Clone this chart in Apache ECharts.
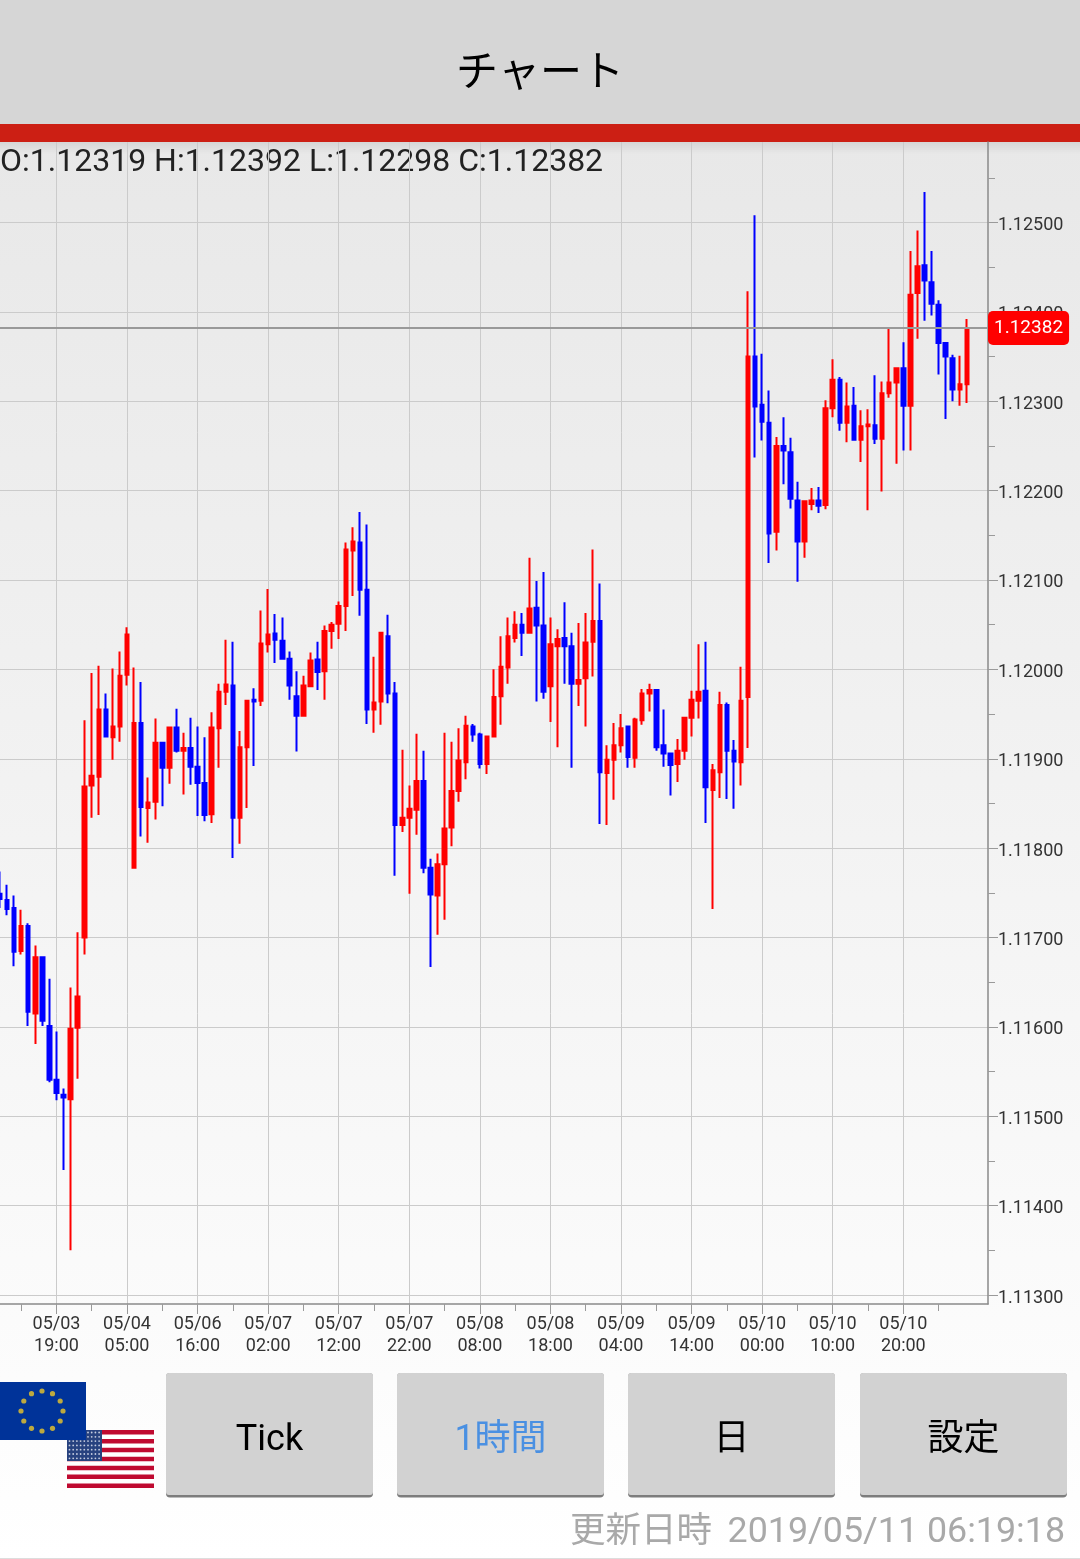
<!DOCTYPE html>
<html>
<head>
<meta charset="utf-8">
<title>チャート</title>
<style>
  html, body { margin: 0; padding: 0; background: #fff; }
  #chart { width: 1080px; height: 1559px; }
</style>
<script src="https://cdn.jsdelivr.net/npm/echarts@6/dist/echarts.min.js"></script>
</head>
<body>
<div id="chart"></div>
<script>
// 1時間足 EUR/USD
const opens = [
  1.11749,1.11742,1.11733,1.11685,1.11713,1.11615,1.11678,1.11601,1.11541,1.11524,
  1.11519,1.11599,1.11700,1.11870,1.11880,1.11955,1.11924,1.11936,1.11994,1.11778,
  1.11940,1.11845,1.11852,1.11918,1.11890,1.11935,1.11909,1.11912,1.11891,1.11873,
  1.11838,1.11934,1.11975,1.11982,1.11834,1.11913,1.11966,1.11965,1.12028,1.12040,
  1.12032,1.12012,1.11970,1.11948,1.11981,1.12011,1.11998,1.12043,1.12051,1.12071,
  1.12133,1.12142,1.12089,1.11955,1.11964,1.12037,1.11973,1.11826,1.11834,1.11843,
  1.11875,1.11778,1.11747,1.11782,1.11823,1.11864,1.11896,1.11936,1.11927,1.11894,
  1.11925,1.11970,1.12002,1.12035,1.12050,1.12041,1.12069,1.12049,1.11981,1.12026,
  1.12035,1.12026,1.11984,1.11990,1.12031,1.12054,1.11884,1.11899,1.11915,1.11936,
  1.11901,1.11943,1.11973,1.11977,1.11915,1.11906,1.11894,1.11909,1.11946,1.11965,
  1.11976,1.11865,1.11885,1.11960,1.11909,1.11896,1.11969,1.12350,1.12296,1.12276,
  1.12154,1.12250,1.12243,1.12189,1.12143,1.12185,1.12189,1.12184,1.12292,1.12324,
  1.12276,1.12295,1.12257,1.12272,1.12273,1.12258,1.12309,1.12321,1.12337,1.12295,
  1.12421,1.12452,1.12433,1.12408,1.12365,1.12348,1.12313,1.12319
];
const closes = [
  1.11743,1.11732,1.11684,1.11713,1.11617,1.11678,1.11607,1.11541,1.11526,1.11521,
  1.11598,1.11634,1.11869,1.11881,1.11955,1.11925,1.11936,1.11993,1.12039,1.11940,
  1.11846,1.11851,1.11918,1.11890,1.11935,1.11909,1.11912,1.11891,1.11873,1.11837,
  1.11935,1.11975,1.11983,1.11834,1.11913,1.11965,1.11964,1.12029,1.12039,1.12033,
  1.12012,1.11982,1.11948,1.11982,1.12010,1.11997,1.12043,1.12050,1.12071,1.12134,
  1.12143,1.12089,1.11955,1.11963,1.12041,1.11973,1.11826,1.11834,1.11844,1.11875,
  1.11778,1.11748,1.11782,1.11822,1.11864,1.11898,1.11937,1.11927,1.11894,1.11925,
  1.11969,1.12003,1.12037,1.12050,1.12041,1.12068,1.12049,1.11975,1.12028,1.12034,
  1.12026,1.11984,1.11988,1.12030,1.12054,1.11885,1.11899,1.11915,1.11934,1.11902,
  1.11944,1.11973,1.11977,1.11913,1.11906,1.11893,1.11909,1.11946,1.11966,1.11975,
  1.11868,1.11887,1.11960,1.11909,1.11897,1.11965,1.12350,1.12294,1.12277,1.12152,
  1.12250,1.12245,1.12191,1.12143,1.12188,1.12189,1.12183,1.12292,1.12324,1.12276,
  1.12294,1.12257,1.12272,1.12274,1.12258,1.12309,1.12321,1.12337,1.12295,1.12419,
  1.12451,1.12435,1.12409,1.12365,1.12350,1.12313,1.12319,1.12382
];
const lows = [
  1.11733,1.11725,1.11668,1.11681,1.11601,1.11581,1.11601,1.11538,1.11518,1.11440,
  1.11350,1.11542,1.11681,1.11834,1.11837,1.11924,1.11899,1.11919,1.11982,1.11778,
  1.11813,1.11806,1.11832,1.11847,1.11872,1.11907,1.11860,1.11871,1.11836,1.11830,
  1.11828,1.11890,1.11960,1.11789,1.11805,1.11845,1.11892,1.11959,1.12019,1.12007,
  1.12012,1.11966,1.11908,1.11947,1.11981,1.11977,1.11966,1.12023,1.12034,1.12043,
  1.12082,1.12060,1.11939,1.11929,1.11938,1.11962,1.11769,1.11818,1.11749,1.11815,
  1.11772,1.11667,1.11703,1.11720,1.11802,1.11852,1.11877,1.11919,1.11889,1.11883,
  1.11925,1.11938,1.11984,1.12030,1.12015,1.12040,1.11964,1.11967,1.11941,1.11913,
  1.11984,1.11890,1.11959,1.11936,1.11992,1.11827,1.11826,1.11854,1.11907,1.11890,
  1.11890,1.11938,1.11953,1.11909,1.11891,1.11859,1.11874,1.11899,1.11925,1.11945,
  1.11828,1.11732,1.11856,1.11855,1.11844,1.11870,1.11912,1.12237,1.12256,1.12119,
  1.12133,1.12207,1.12180,1.12098,1.12125,1.12178,1.12175,1.12179,1.12282,1.12267,
  1.12254,1.12257,1.12232,1.12178,1.12252,1.12199,1.12304,1.12230,1.12245,1.12245,
  1.12370,1.12390,1.12396,1.12330,1.12280,1.12300,1.12295,1.12298
];
const highs = [
  1.11774,1.11759,1.11747,1.11731,1.11716,1.11691,1.11678,1.11654,1.11595,1.11531,
  1.11644,1.11706,1.11943,1.11996,1.12004,1.11973,1.12001,1.12020,1.12047,1.12002,
  1.11986,1.11879,1.11945,1.11918,1.11936,1.11956,1.11929,1.11946,1.11936,1.11924,
  1.11952,1.11984,1.12033,1.12031,1.11931,1.11966,1.11979,1.12066,1.12090,1.12062,
  1.12058,1.12020,1.11998,1.11993,1.12019,1.12031,1.12049,1.12053,1.12076,1.12142,
  1.12159,1.12176,1.12162,1.12014,1.12042,1.12061,1.11986,1.11910,1.11870,1.11928,
  1.11909,1.11788,1.11794,1.11929,1.11919,1.11934,1.11948,1.11939,1.11929,1.11925,
  1.12000,1.12037,1.12058,1.12065,1.12063,1.12125,1.12099,1.12109,1.12058,1.12045,
  1.12075,1.12041,1.12052,1.12063,1.12134,1.12096,1.11915,1.11940,1.11950,1.11936,
  1.11946,1.11978,1.11984,1.11977,1.11955,1.11907,1.11922,1.11947,1.11976,1.12028,
  1.12031,1.11894,1.11975,1.11963,1.11921,1.12003,1.12423,1.12508,1.12353,1.12312,
  1.12260,1.12282,1.12259,1.12210,1.12189,1.12203,1.12204,1.12301,1.12347,1.12327,
  1.12321,1.12316,1.12290,1.12291,1.12329,1.12322,1.12382,1.12338,1.12366,1.12468,
  1.12491,1.12534,1.12468,1.12413,1.12365,1.12352,1.12351,1.12392
];
const tickLabels = [
  '05/03\n19:00', '05/04\n05:00', '05/06\n16:00', '05/07\n02:00', '05/07\n12:00',
  '05/07\n22:00', '05/08\n08:00', '05/08\n18:00', '05/09\n04:00', '05/09\n14:00',
  '05/10\n00:00', '05/10\n10:00', '05/10\n20:00'
];
const priceTicks = [1.113, 1.114, 1.115, 1.116, 1.117, 1.118, 1.119, 1.12, 1.121, 1.122, 1.123, 1.124, 1.125];
const priceMinorTicks = [1.1135, 1.1145, 1.1155, 1.1165, 1.1175, 1.1185, 1.1195, 1.1205, 1.1215, 1.1225, 1.1235, 1.1245, 1.1255];
const lastPrice = 1.12382;
const ohlcText = 'O:1.12319 H:1.12392 L:1.12298 C:1.12382';
const buttonLabels = ['Tick', '1時間', '日', '設定'];

const FONT = 'Roboto, "Noto Sans CJK JP", sans-serif';
const SLOTS = 141;

// x軸は141枠、13本目から10本おきに目盛
const categories = [];
for (let i = 0; i < SLOTS; i++) {
  const k = (i - 8) / 10;
  categories.push(Number.isInteger(k) && tickLabels[k] ? tickLabels[k] : '');
}
const isMajor = i => (i - 8) % 10 === 0 && i < 130;
const isMinor = i => (i - 3) % 5 === 0 && i < 136;

const candles = opens.map((o, i) => [o, closes[i], lows[i], highs[i]]);

function rect(x, y, width, height, fill, r) {
  return { type: 'rect', shape: { x, y, width, height, r: r || 0 }, style: { fill } };
}
function label(text, x, y, size, fill, align) {
  return {
    type: 'text',
    style: { text, x, y, fill, font: size + 'px ' + FONT, align: align || 'center', verticalAlign: 'middle' }
  };
}

// 国旗
function flags() {
  const out = [];
  out.push(rect(67, 1430, 87, 58, '#ffffff'));
  for (let s = 0; s < 13; s += 2) {
    out.push(rect(67, 1430 + s * 4.46, 87, 4.46, '#bf0a30'));
  }
  out.push(rect(67, 1430, 35, 31, '#27427f'));
  for (let r = 0; r < 7; r++) {
    for (let c = 0; c < 9; c++) {
      out.push({ type: 'circle', shape: { cx: 69.5 + c * 3.7, cy: 1432.5 + r * 4.3, r: 0.9 }, style: { fill: '#c5cde0' } });
    }
  }
  out.push(rect(0, 1382, 86, 58, '#003399'));
  for (let s = 0; s < 12; s++) {
    const a = s * Math.PI / 6;
    out.push({
      type: 'circle',
      shape: { cx: 42 + 21 * Math.sin(a), cy: 1411 - 20 * Math.cos(a), r: 2.6 },
      style: { fill: '#bda93f' }
    });
  }
  return out;
}

function buttons() {
  const lefts = [166, 397, 628, 860];
  const out = [];
  buttonLabels.forEach((text, i) => {
    out.push(rect(lefts[i], 1373, 207, 124.5, '#7d7d7d', 4));
    out.push(rect(lefts[i], 1373, 207, 122, '#d2d2d2', 3));
    out.push(label(text, lefts[i] + 103.5, 1441, 36, text === '1時間' ? '#4a90e2' : '#000'));
  });
  return out;
}

const chart = echarts.init(document.getElementById('chart'));
chart.setOption({
  animation: false,
  backgroundColor: new echarts.graphic.LinearGradient(0, 0, 0, 1, [
    { offset: 0, color: '#e6e6e6' },
    { offset: 0.09, color: '#e8e8e8' },
    { offset: 0.5, color: '#f2f2f2' },
    { offset: 1, color: '#ffffff' }
  ]),
  grid: { left: -0.5, right: 92, top: 142, bottom: 255 },
  xAxis: [
    {
      type: 'category',
      boundaryGap: false,
      data: categories,
      axisLine: { lineStyle: { color: '#8a8a8a', width: 1.5 } },
      axisTick: { interval: isMajor, length: 10, lineStyle: { color: '#9a9a9a', width: 1 } },
      axisLabel: {
        interval: isMajor, margin: 10, color: '#333', fontFamily: FONT, fontSize: 18, lineHeight: 21.5
      },
      splitLine: { show: true, interval: isMajor, lineStyle: { color: '#cbcbcb', width: 1 } }
    },
    {
      type: 'category',
      boundaryGap: false,
      position: 'bottom',
      data: categories,
      axisLine: { show: false },
      axisTick: { interval: isMinor, length: 7, lineStyle: { color: '#9a9a9a', width: 1 } },
      axisLabel: { show: false },
      splitLine: { show: false }
    }
  ],
  yAxis: [
    {
      type: 'value',
      position: 'right',
      min: 1.1129,
      max: 1.1259,
      axisLine: { show: true, lineStyle: { color: '#8a8a8a', width: 1.5 } },
      axisTick: { show: true, customValues: priceTicks, length: 10, lineStyle: { color: '#9a9a9a', width: 1 } },
      axisLabel: {
        customValues: priceTicks, margin: 10, color: '#333', fontFamily: FONT, fontSize: 18,
        verticalAlign: 'top', lineHeight: 6,
        formatter: v => v.toFixed(5)
      },
      splitLine: { show: true, lineStyle: { color: '#cbcbcb', width: 1 } }
    },
    {
      type: 'value',
      position: 'right',
      min: 1.1129,
      max: 1.1259,
      axisLine: { show: false },
      axisTick: { show: true, customValues: priceMinorTicks, length: 7, lineStyle: { color: '#9a9a9a', width: 1 } },
      axisLabel: { show: false },
      splitLine: { show: false }
    }
  ],
  series: [
    {
      type: 'candlestick',
      xAxisIndex: 0,
      yAxisIndex: 0,
      barWidth: 4,
      data: candles,
      itemStyle: {
        color: '#ff0000',
        color0: '#0000ff',
        borderColor: '#ff0000',
        borderColor0: '#0000ff',
        borderWidth: 2
      },
      markLine: {
        silent: true,
        symbol: 'none',
        precision: 5,
        data: [{ yAxis: lastPrice }],
        lineStyle: { color: '#999', width: 2, type: 'solid' },
        label: {
          position: 'end',
          distance: 0,
          formatter: lastPrice.toFixed(5),
          color: '#fff',
          backgroundColor: '#ff0000',
          borderRadius: 5,
          padding: [7, 6, 7, 6],
          fontFamily: FONT,
          fontSize: 19,
          lineHeight: 20
        }
      }
    }
  ],
  graphic: {
    elements: [
      rect(0, 0, 1080, 124, '#d6d6d6'),
      rect(0, 124, 1080, 18, '#cc1f14'),
      {
        type: 'rect',
        shape: { x: 0, y: 142, width: 1080, height: 12 },
        style: {
          fill: new echarts.graphic.LinearGradient(0, 0, 0, 1, [
            { offset: 0, color: 'rgba(0,0,0,0.08)' },
            { offset: 1, color: 'rgba(0,0,0,0)' }
          ])
        }
      },
      label('チャート', 540, 75, 42, '#000'),
      label(ohlcText, 0, 163, 32, '#222', 'left'),
      ...flags(),
      ...buttons(),
      label('更新日時', 570, 1533, 35.5, '#a9a9a9', 'left'),
      label('2019/05/11 06:19:18', 1065, 1533, 35.8, '#a9a9a9', 'right'),
      rect(0, 1558, 1080, 1, '#dddddd')
    ]
  }
});
</script>
</body>
</html>
